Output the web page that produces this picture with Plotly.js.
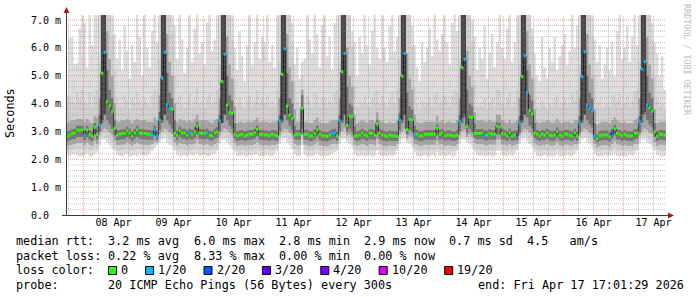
<!DOCTYPE html>
<html><head><meta charset="utf-8">
<script src="https://cdn.plot.ly/plotly-3.0.1.min.js"></script>
<style>html,body{margin:0;padding:0;background:#fff;}#chart{width:697px;height:297px;}</style>
</head><body><div id="chart"></div>
<script>
// ---------------- data (hourly bins, first bin = 2026-04-07 17:00) ----------------
const firstBin = Date.UTC(2026, 3, 7, 17, 0, 0);
const viewStart = '2026-04-07 17:01:29';
const viewEnd = '2026-04-17 17:01:29';
const dayLabels = ['08 Apr','09 Apr','10 Apr','11 Apr','12 Apr','13 Apr','14 Apr','15 Apr','16 Apr','17 Apr'];
const yTickVals = [0,1,2,3,4,5,6,7];
const yTickText = ['0.0\u00a0\u00a0','1.0 m','2.0 m','3.0 m','4.0 m','5.0 m','6.0 m','7.0 m'];

const median = [
2.83,2.87,2.93,2.95,3.05,3.05,3.05,
2.87,3.05,2.90,2.84,3.15,2.90,3.23,5.09,5.84,4.07,3.92,3.71,3.11,2.87,2.90,2.93,2.93,3.02,2.95,2.84,2.95,3.05,2.95,2.93,
2.93,2.90,2.90,2.88,3.05,2.84,3.41,4.92,5.84,3.97,3.83,3.79,2.93,2.87,3.02,2.95,2.95,2.87,2.95,2.90,2.99,3.19,2.95,2.93,
2.93,2.95,2.87,2.84,2.95,2.99,3.38,4.79,5.77,3.95,3.69,3.65,2.90,2.84,2.87,2.90,2.84,2.87,2.90,2.90,2.95,3.07,2.90,2.90,
2.87,2.87,2.84,2.90,2.87,2.84,3.38,5.05,5.96,3.91,3.59,3.47,2.87,2.90,2.90,3.83,2.90,2.90,2.84,2.84,2.93,3.05,2.90,2.84,
2.84,2.82,2.87,2.93,2.95,2.84,3.38,5.14,5.80,3.23,3.55,3.53,2.84,2.84,2.87,2.95,2.88,2.84,2.93,2.93,2.87,3.27,2.95,2.87,
2.84,2.82,2.87,2.84,2.84,2.82,3.41,4.99,5.80,3.07,3.43,3.41,2.90,2.90,2.84,2.84,2.90,2.90,2.90,2.90,2.90,3.11,2.90,2.95,
2.84,2.87,2.87,2.84,2.84,2.87,3.35,5.29,5.59,3.19,3.51,3.51,2.93,2.93,2.93,2.95,2.87,2.87,2.93,2.90,2.90,3.19,3.15,2.93,
2.90,2.84,2.95,2.84,2.87,2.87,3.31,4.97,5.71,4.40,3.74,3.63,2.95,2.90,2.84,2.90,2.87,2.95,2.87,2.84,2.87,2.99,2.87,2.83,
2.90,2.90,2.87,2.84,2.95,2.84,3.31,4.97,5.86,3.95,3.83,3.73,2.84,2.75,2.84,2.87,2.87,2.87,2.81,2.95,3.09,2.93,2.90,2.84,
2.90,2.84,2.84,2.84,2.93,2.95,3.33,5.24,5.50,3.95,3.85,3.73,2.99,2.83,2.90,2.90,2.87
];

// loss class per hour: 0 = 0, 1 = 1/20, 2 = 2/20
const lossIdx = [
0,0,0,0,0,0,0,
1,0,0,0,0,0,1,0,1,0,0,0,0,0,0,0,0,0,0,0,0,0,0,0,
0,0,0,1,1,1,1,1,1,1,1,0,0,0,0,0,0,0,1,0,0,0,0,0,
0,1,0,0,0,0,1,0,1,0,0,0,0,0,0,0,0,0,0,0,0,0,0,0,
0,0,0,0,0,0,1,0,1,0,0,0,0,0,0,0,0,0,0,0,0,0,0,0,
0,0,0,1,1,0,1,0,1,0,0,0,0,0,0,0,0,0,0,0,0,0,0,0,
0,0,0,0,0,0,1,0,1,0,0,0,1,0,0,0,0,0,0,0,0,0,0,0,
0,0,0,0,0,0,1,0,1,0,0,0,0,0,0,0,1,0,0,0,0,0,0,0,
0,0,0,0,0,2,1,0,1,1,0,0,0,0,0,0,0,0,0,0,0,0,0,0,
0,0,0,0,0,0,1,1,1,1,1,1,1,0,0,0,0,0,0,2,0,0,0,0,
0,0,0,0,0,0,1,1,1,1,0,0,0,0,0,0,0
];

// smoke: outer (min..max), mid, inner, core ranges per hour
const smokeMin = [
2.15,2.12,2.18,2.2,2.15,2.1,2.12,
2.15,2.2,2.1,2.12,2.2,2.25,2.5,2.7,2.7,2.6,2.5,2.4,2.3,2.15,2.12,2.1,2.15,2.2,2.1,2.12,2.15,2.1,2.18,2.15,
2.12,2.15,2.2,2.3,2.4,2.5,2.6,2.7,2.75,2.6,2.5,2.45,2.3,2.15,2.1,2.12,2.15,2.1,2.18,2.12,2.15,2.2,2.1,2.15,
2.15,2.1,2.12,2.18,2.2,2.3,2.55,2.7,2.7,2.6,2.5,2.4,2.25,2.12,2.1,2.15,2.12,2.1,2.15,2.12,2.18,2.2,2.1,2.12,
2.12,2.15,2.1,2.12,2.2,2.3,2.55,2.7,2.75,2.6,2.5,2.4,2.2,2.1,2.12,2.5,2.15,2.1,2.12,2.1,2.15,2.2,2.12,2.1,
2.1,2.12,2.15,2.2,2.25,2.3,2.55,2.7,2.75,2.6,2.55,2.45,2.2,2.1,2.12,2.15,2.1,2.12,2.15,2.1,2.12,2.3,2.15,2.12,
2.12,2.1,2.15,2.1,2.15,2.3,2.55,2.7,2.75,2.6,2.55,2.45,2.25,2.12,2.1,2.12,2.15,2.1,2.12,2.15,2.1,2.25,2.12,2.15,
2.1,2.12,2.15,2.1,2.12,2.3,2.55,2.7,2.7,2.6,2.55,2.45,2.25,2.15,2.12,2.15,2.1,2.12,2.15,2.1,2.12,2.3,2.3,2.15,
2.12,2.1,2.15,2.12,2.2,2.3,2.55,2.7,2.75,2.65,2.55,2.45,2.25,2.12,2.1,2.12,2.15,2.1,2.12,2.1,2.12,2.2,2.1,2.12,
2.12,2.15,2.1,2.12,2.2,2.3,2.55,2.7,2.75,2.6,2.55,2.45,2.2,2.1,2.1,2.12,2.15,2.1,2.12,2.15,2.2,2.12,2.1,2.12,
2.1,2.12,2.15,2.12,2.2,2.3,2.55,2.7,2.7,2.6,2.55,2.45,2.3,2.15,2.12,2.1,2.12
];
const smokeMax = [
4.3,6.35,6.35,5.4,5.45,6.7,7.18,
6.9,5.3,7.18,6.1,7.18,7.18,7.18,7.18,7.18,7.18,7.18,7.18,6.5,5.6,6.3,5.2,6.8,5.9,4.9,6.1,5.5,7.18,6.4,5.0,
7.18,6.0,5.3,6.6,7.18,6.2,7.18,7.18,7.18,7.18,7.18,7.18,6.8,5.6,7.18,6.3,5.1,6.0,7.18,5.5,6.7,7.18,5.8,6.2,
5.4,6.9,7.18,5.9,6.3,7.18,7.18,7.18,7.18,7.18,7.18,7.18,6.0,5.2,6.6,5.7,4.8,6.1,7.18,5.4,6.2,7.18,5.6,6.4,
6.2,7.18,5.5,6.1,5.3,7.18,7.18,7.18,7.18,7.18,7.18,6.9,5.4,6.0,4.9,5.5,5.6,7.18,6.3,5.8,7.18,6.5,5.3,6.8,
7.18,5.7,6.4,5.2,6.9,7.18,7.18,7.18,7.18,7.18,7.18,6.6,6.2,5.0,6.4,5.8,7.18,6.1,5.4,6.6,7.18,6.0,5.6,7.18,
6.0,5.5,6.8,7.18,5.9,6.4,7.18,7.18,7.18,7.18,7.18,6.8,6.1,5.3,4.8,6.2,5.5,6.0,6.7,5.7,7.18,6.3,5.9,6.5,
7.18,6.2,5.4,6.9,7.18,6.6,7.18,7.18,7.18,7.18,7.18,7.0,6.4,5.2,6.0,5.6,6.8,4.9,5.8,6.5,5.3,6.2,7.18,6.0,
5.6,6.7,7.18,5.5,6.2,7.18,7.18,7.18,7.18,7.18,7.18,6.7,5.8,5.0,4.8,6.4,5.3,4.9,6.0,5.5,6.4,5.2,5.7,6.1,
6.5,5.4,5.9,7.18,6.0,6.8,7.18,7.18,7.18,7.18,7.18,7.18,6.3,5.5,6.1,4.9,5.4,6.0,5.2,6.2,5.0,6.6,7.18,5.6,
6.0,6.8,5.5,6.4,7.18,6.1,7.18,7.18,7.18,7.18,7.18,6.9,6.2,5.8,5.0,5.7,4.5
];
const midLo = [
2.3,2.32,2.34,2.36,2.4,2.36,2.38,
2.32,2.4,2.32,2.3,2.42,2.42,2.7,2.85,2.9,2.8,2.7,2.6,2.45,2.32,2.32,2.32,2.34,2.4,2.34,2.3,2.34,2.38,2.36,2.34,
2.32,2.32,2.36,2.42,2.5,2.55,2.75,2.85,2.9,2.8,2.7,2.65,2.45,2.32,2.36,2.34,2.34,2.3,2.36,2.32,2.36,2.45,2.34,2.34,
2.34,2.34,2.3,2.32,2.36,2.42,2.7,2.85,2.9,2.8,2.7,2.6,2.4,2.3,2.3,2.34,2.3,2.3,2.34,2.3,2.36,2.42,2.32,2.32,
2.32,2.34,2.3,2.32,2.36,2.42,2.7,2.85,2.9,2.8,2.7,2.6,2.38,2.3,2.32,2.65,2.34,2.3,2.3,2.3,2.34,2.42,2.32,2.3,
2.3,2.3,2.32,2.36,2.4,2.42,2.7,2.85,2.9,2.7,2.7,2.6,2.36,2.3,2.32,2.34,2.32,2.3,2.34,2.32,2.32,2.5,2.34,2.32,
2.32,2.3,2.32,2.3,2.32,2.42,2.72,2.85,2.9,2.65,2.68,2.6,2.4,2.32,2.3,2.3,2.34,2.32,2.32,2.34,2.32,2.42,2.32,2.34,
2.3,2.32,2.32,2.3,2.3,2.42,2.7,2.85,2.85,2.7,2.7,2.6,2.4,2.34,2.32,2.34,2.3,2.32,2.34,2.3,2.32,2.48,2.46,2.34,
2.32,2.3,2.34,2.3,2.36,2.42,2.7,2.85,2.9,2.85,2.7,2.6,2.4,2.32,2.3,2.32,2.32,2.3,2.32,2.3,2.32,2.38,2.3,2.3,
2.32,2.34,2.3,2.3,2.36,2.42,2.7,2.85,2.9,2.8,2.7,2.62,2.36,2.26,2.3,2.32,2.34,2.3,2.3,2.34,2.4,2.32,2.3,2.3,
2.3,2.3,2.32,2.3,2.36,2.42,2.7,2.85,2.85,2.8,2.7,2.62,2.45,2.32,2.32,2.3,2.3
];
const midHi = [
3.9,4.3,4.1,4.0,4.4,4.2,4.5,
4.1,4.0,4.4,3.9,4.3,4.5,5.5,7.18,7.18,7.18,7.18,6.4,5.2,4.2,4.0,3.9,4.3,4.1,3.8,4.2,4.0,4.4,4.1,3.9,
4.2,4.0,3.9,4.3,4.5,4.4,5.6,7.18,7.18,7.18,7.18,6.5,5.0,4.1,4.3,4.0,3.8,4.1,4.4,3.9,4.2,4.6,4.0,4.1,
3.9,4.2,4.4,4.0,4.1,4.5,5.4,7.18,7.18,7.18,7.18,6.3,4.9,4.0,4.2,3.9,3.8,4.1,4.3,3.9,4.1,4.5,4.0,4.2,
4.0,4.3,3.9,4.1,3.9,4.5,5.5,7.18,7.18,7.18,7.18,6.2,4.8,4.1,3.9,5.0,4.0,4.3,4.1,3.9,4.4,4.3,3.9,4.2,
4.2,3.9,4.1,4.0,4.4,4.5,5.5,7.18,7.18,7.18,7.18,6.0,4.6,3.9,4.1,4.0,4.3,4.0,3.9,4.2,4.4,4.5,4.0,4.3,
4.0,3.9,4.2,4.4,4.0,4.5,5.6,7.18,7.18,7.18,7.18,6.0,4.6,4.0,3.8,4.1,3.9,4.0,4.2,3.9,4.3,4.4,4.0,4.1,
4.3,4.1,3.9,4.3,4.5,4.4,5.5,7.18,7.18,7.18,7.18,6.2,4.7,3.9,4.0,3.9,4.2,3.8,4.0,4.2,3.9,4.5,4.5,4.0,
3.9,4.2,4.4,3.9,4.1,4.5,5.4,7.18,7.18,7.18,7.18,6.4,4.9,3.9,3.8,4.1,3.9,3.8,4.0,3.9,4.2,4.3,3.9,4.0,
4.2,3.9,4.0,4.4,4.1,4.5,5.4,7.18,7.18,7.18,7.18,6.4,5.0,4.0,4.1,3.8,3.9,4.0,3.9,4.3,4.3,4.1,4.4,3.9,
4.0,4.3,3.9,4.1,4.4,4.5,5.5,7.18,7.18,7.18,7.18,6.3,5.0,4.2,3.9,4.0,3.8
];
const innerLo = [
2.48,2.5,2.52,2.55,2.6,2.58,2.6,
2.5,2.6,2.52,2.48,2.65,2.55,2.85,3.0,3.1,3.05,2.95,2.85,2.65,2.5,2.52,2.52,2.54,2.6,2.55,2.48,2.55,2.6,2.55,2.52,
2.52,2.5,2.52,2.55,2.65,2.6,2.9,3.0,3.1,3.05,2.95,2.9,2.6,2.5,2.58,2.55,2.55,2.5,2.55,2.52,2.56,2.68,2.55,2.52,
2.52,2.55,2.5,2.48,2.55,2.6,2.85,3.0,3.1,3.05,2.95,2.85,2.58,2.48,2.5,2.52,2.48,2.5,2.52,2.5,2.55,2.62,2.52,2.5,
2.5,2.5,2.48,2.52,2.5,2.55,2.85,3.0,3.1,3.05,2.95,2.85,2.55,2.5,2.5,2.85,2.52,2.5,2.48,2.48,2.54,2.62,2.5,2.48,
2.48,2.46,2.5,2.55,2.56,2.55,2.85,3.0,3.1,2.85,2.9,2.8,2.52,2.48,2.5,2.55,2.52,2.48,2.54,2.54,2.5,2.72,2.55,2.5,
2.48,2.46,2.5,2.48,2.48,2.55,2.9,3.0,3.1,2.75,2.85,2.8,2.55,2.52,2.48,2.48,2.52,2.52,2.52,2.52,2.52,2.65,2.52,2.55,
2.48,2.5,2.5,2.48,2.48,2.55,2.85,3.0,3.05,2.8,2.9,2.8,2.58,2.55,2.54,2.55,2.5,2.5,2.54,2.52,2.52,2.7,2.68,2.54,
2.52,2.48,2.55,2.48,2.5,2.55,2.85,3.0,3.1,3.05,2.95,2.85,2.58,2.52,2.48,2.52,2.5,2.55,2.5,2.48,2.5,2.6,2.5,2.48,
2.52,2.52,2.5,2.48,2.55,2.55,2.85,3.0,3.1,3.05,2.95,2.9,2.55,2.42,2.48,2.5,2.5,2.5,2.46,2.55,2.65,2.54,2.52,2.48,
2.52,2.48,2.48,2.48,2.54,2.56,2.85,3.0,3.1,3.05,2.95,2.9,2.6,2.48,2.52,2.52,2.5
];
const innerHi = [
3.3,3.35,3.4,3.4,3.45,3.45,3.45,
3.35,3.45,3.35,3.3,3.55,3.5,4.2,7.18,7.18,6.6,5.6,5.0,4.0,3.35,3.35,3.4,3.4,3.45,3.4,3.3,3.4,3.45,3.4,3.4,
3.4,3.35,3.35,3.35,3.5,3.4,4.3,7.18,7.18,6.5,5.5,5.0,4.0,3.35,3.45,3.4,3.4,3.35,3.4,3.35,3.45,3.6,3.4,3.4,
3.4,3.4,3.35,3.3,3.4,3.45,4.2,7.18,7.18,6.4,5.4,4.9,3.9,3.3,3.35,3.35,3.3,3.35,3.35,3.35,3.4,3.5,3.35,3.35,
3.35,3.35,3.3,3.35,3.35,3.4,4.2,7.18,7.18,6.5,5.3,4.8,3.8,3.35,3.35,4.5,3.35,3.35,3.3,3.3,3.4,3.5,3.35,3.3,
3.3,3.3,3.35,3.4,3.4,3.4,4.2,7.18,7.18,6.0,5.0,4.6,3.6,3.3,3.35,3.4,3.35,3.3,3.4,3.4,3.35,3.7,3.4,3.35,
3.3,3.3,3.35,3.3,3.3,3.4,4.2,7.18,7.18,5.8,4.9,4.5,3.6,3.35,3.3,3.3,3.35,3.35,3.35,3.35,3.35,3.55,3.35,3.4,
3.3,3.35,3.35,3.3,3.3,3.4,4.2,7.18,7.18,5.9,5.0,4.6,3.7,3.4,3.4,3.4,3.35,3.35,3.4,3.35,3.35,3.6,3.6,3.4,
3.35,3.3,3.4,3.3,3.35,3.4,4.2,7.18,7.18,6.6,5.4,4.9,3.8,3.35,3.3,3.35,3.35,3.4,3.35,3.3,3.35,3.45,3.35,3.3,
3.35,3.35,3.35,3.3,3.4,3.4,4.2,7.18,7.18,6.5,5.4,4.9,3.8,3.25,3.3,3.35,3.35,3.35,3.3,3.4,3.5,3.4,3.35,3.3,
3.35,3.3,3.3,3.3,3.4,3.45,4.2,7.18,7.18,6.4,5.4,4.9,3.8,3.3,3.35,3.35,3.35
];
const coreLo = [
2.65,2.68,2.72,2.72,2.8,2.8,2.8,
2.68,2.8,2.7,2.66,2.9,2.72,3.0,3.3,3.6,3.4,3.25,3.1,2.85,2.68,2.7,2.72,2.72,2.8,2.74,2.66,2.74,2.8,2.74,2.72,
2.72,2.7,2.7,2.7,2.85,2.7,3.05,3.3,3.6,3.4,3.25,3.1,2.8,2.68,2.8,2.74,2.74,2.68,2.74,2.7,2.76,2.9,2.74,2.72,
2.72,2.74,2.68,2.66,2.74,2.76,3.0,3.3,3.6,3.4,3.2,3.1,2.75,2.66,2.68,2.7,2.66,2.68,2.7,2.7,2.74,2.84,2.7,2.7,
2.68,2.68,2.66,2.7,2.68,2.66,3.0,3.3,3.6,3.4,3.2,3.05,2.72,2.7,2.7,3.1,2.7,2.7,2.66,2.66,2.72,2.82,2.7,2.66,
2.66,2.64,2.68,2.72,2.74,2.66,3.0,3.3,3.6,3.0,3.1,3.0,2.7,2.66,2.68,2.74,2.7,2.66,2.72,2.72,2.68,2.95,2.74,2.68,
2.66,2.64,2.68,2.66,2.66,2.66,3.05,3.3,3.6,2.9,3.05,3.0,2.72,2.7,2.66,2.66,2.7,2.7,2.7,2.7,2.7,2.85,2.7,2.74,
2.66,2.68,2.68,2.66,2.66,2.68,3.0,3.3,3.5,2.95,3.1,3.0,2.76,2.72,2.72,2.74,2.68,2.68,2.72,2.7,2.7,2.9,2.88,2.72,
2.7,2.66,2.74,2.66,2.68,2.68,2.95,3.3,3.6,3.5,3.2,3.1,2.76,2.7,2.66,2.7,2.68,2.74,2.68,2.66,2.68,2.78,2.68,2.66,
2.7,2.7,2.68,2.66,2.74,2.66,2.95,3.3,3.6,3.4,3.25,3.15,2.7,2.6,2.66,2.68,2.68,2.68,2.64,2.74,2.85,2.72,2.7,2.66,
2.7,2.66,2.66,2.66,2.72,2.74,2.95,3.3,3.6,3.4,3.25,3.15,2.8,2.66,2.7,2.7,2.68
];
const coreHi = [
3.0,3.03,3.08,3.1,3.2,3.2,3.2,
3.03,3.2,3.05,3.0,3.3,3.05,3.6,7.18,7.18,5.2,4.5,4.2,3.4,3.03,3.05,3.08,3.08,3.17,3.1,3.0,3.1,3.2,3.1,3.08,
3.08,3.05,3.05,3.03,3.2,3.0,3.7,7.18,7.18,5.1,4.4,4.2,3.4,3.03,3.17,3.1,3.1,3.03,3.1,3.05,3.14,3.34,3.1,3.08,
3.08,3.1,3.03,3.0,3.1,3.14,3.6,7.18,7.18,5.0,4.3,4.1,3.3,3.0,3.03,3.05,3.0,3.03,3.05,3.05,3.1,3.22,3.05,3.05,
3.03,3.03,3.0,3.05,3.03,3.0,3.6,7.18,7.18,5.1,4.2,4.0,3.2,3.05,3.05,4.3,3.05,3.05,3.0,3.0,3.08,3.2,3.05,3.0,
3.0,2.98,3.03,3.08,3.1,3.0,3.6,7.18,7.18,4.6,4.0,3.9,3.2,3.0,3.03,3.1,3.03,3.0,3.08,3.08,3.03,3.42,3.1,3.03,
3.0,2.98,3.03,3.0,3.0,3.0,3.65,7.18,7.18,4.4,3.9,3.8,3.2,3.05,3.0,3.0,3.05,3.05,3.05,3.05,3.05,3.26,3.05,3.1,
3.0,3.03,3.03,3.0,3.0,3.03,3.6,7.18,7.18,4.5,4.0,3.9,3.3,3.08,3.08,3.1,3.03,3.03,3.08,3.05,3.05,3.34,3.3,3.08,
3.05,3.0,3.1,3.0,3.03,3.03,3.55,7.18,7.18,5.2,4.3,4.1,3.3,3.05,3.0,3.05,3.03,3.1,3.03,3.0,3.03,3.14,3.03,3.0,
3.05,3.05,3.03,3.0,3.1,3.0,3.55,7.18,7.18,5.0,4.4,4.2,3.3,2.9,3.0,3.03,3.03,3.03,2.97,3.1,3.24,3.08,3.05,3.0,
3.05,3.0,3.0,3.0,3.08,3.1,3.55,7.18,7.18,5.0,4.4,4.2,3.3,3.0,3.05,3.05,3.03
];
// darkest smoke in the jump hours: bin index, low, high
const peakBins = [14,15,38,39,62,63,86,87,110,111,134,135,158,159,182,183,206,207,230,231];
const peakLo = [3.4,3.6,3.4,3.6,3.3,3.6,3.4,3.6,3.4,3.6,3.4,3.6,3.5,3.6,3.4,3.6,3.4,3.6,3.6,3.7];
const peakHi = [7.18,7.18,7.18,7.18,7.18,7.18,7.18,7.18,7.18,7.18,7.18,7.18,7.18,7.18,7.18,7.18,7.18,7.18,7.18,7.18];

const lossLabels = ['0','1/20','2/20','3/20','4/20','10/20','19/20'];
const lossColors = ['#26ff00','#00b8ff','#0059ff','#5e00ff','#7e00ff','#dd00ff','#ff0000'];
const rttStats = ['3.2 ms avg','6.0 ms max','2.8 ms min','2.9 ms now','0.7 ms sd','4.5   am/s'];
const lossStats = ['0.22 % avg','8.33 % max','0.00 % min','0.00 % now'];
const probeText = '20 ICMP Echo Pings (56 Bytes) every 300s';
const endText = 'end: Fri Apr 17 17:01:29 2026';

// ---------------- drawing ----------------
const HOUR = 3600000;
const MONO = 'DejaVu Sans Mono';
const PL = 66, PT = 15, PW = 600, PH = 200;
const pxX = x => (x - PL) / PW;
const pxY = y => (PT + PH - y) / PH;
const nb = s => s.replace(/ /g, '\u00a0');

const n = median.length;
const xs = [];
for (let k = 0; k <= n; k++) xs.push(firstBin + k * HOUR);
const stepY = a => a.concat([a[a.length - 1]]);

const traces = [];
const bands = [
  [smokeMin, smokeMax, '#dddddd'],
  [midLo, midHi, '#d0d0d0'],
  [innerLo, innerHi, '#a6a6a6'],
  [coreLo, coreHi, '#757575']
];
bands.forEach(([lo, hi, col]) => {
  traces.push({type:'scatter', x:xs, y:stepY(lo), mode:'lines', line:{width:0, shape:'hv'}, hoverinfo:'skip'});
  traces.push({type:'scatter', x:xs, y:stepY(hi), mode:'lines', line:{width:0, shape:'hv'}, fill:'tonexty', fillcolor:col, hoverinfo:'skip'});
});
peakBins.forEach((k, i) => {
  const a = xs[k], b = xs[k + 1];
  traces.push({type:'scatter', x:[a, b, b, a, a], y:[peakLo[i], peakLo[i], peakHi[i], peakHi[i], peakLo[i]],
    mode:'lines', line:{width:0}, fill:'toself', fillcolor:'#474747', hoverinfo:'skip'});
});
traces.push({type:'scatter', x:xs, y:stepY(median), mode:'lines', line:{width:1, color:'#202020', shape:'hv'}, hoverinfo:'skip'});
lossColors.forEach((col, c) => {
  const bx = [], by = [];
  for (let k = 0; k < n; k++) {
    if (lossIdx[k] === c) { bx.push(xs[k], xs[k + 1], null); by.push(median[k], median[k], null); }
  }
  if (bx.length) traces.push({type:'scatter', x:bx, y:by, mode:'lines', line:{width:3, color:col}, hoverinfo:'skip'});
});

const shapes = [];
const minorCol = 'rgba(140,140,140,0.5)', majorCol = 'rgba(225,60,60,0.5)';
for (let j = 1; j <= 35; j++) {
  const major = j % 5 === 0;
  shapes.push({type:'line', layer:'above', xref:'paper', x0:0, x1:1, yref:'y', y0:j / 5, y1:j / 5,
    line:{color: major ? majorCol : minorCol, width:1, dash:'1px,1px'}});
}
for (let t = Date.UTC(2026, 3, 7, 18); t <= Date.UTC(2026, 3, 17, 12); t += 6 * HOUR) {
  const major = new Date(t).getUTCHours() === 0;
  shapes.push({type:'line', layer:'above', xref:'x', x0:t, x1:t, yref:'paper', y0:0, y1:1,
    line:{color: major ? majorCol : minorCol, width:1, dash:'1px,1px'}});
}
// axes + arrows
const axisCol = '#3a3a3a', arrowCol = '#a51d1d';
shapes.push({type:'line', layer:'above', xref:'paper', yref:'paper', x0:pxX(66.5), x1:pxX(66.5), y0:pxY(215.5), y1:pxY(12), line:{color:axisCol, width:1}});
shapes.push({type:'line', layer:'above', xref:'paper', yref:'paper', x0:pxX(62), x1:pxX(668), y0:pxY(215.5), y1:pxY(215.5), line:{color:axisCol, width:1}});
const tri = pts => 'M ' + pts.map(p => pxX(p[0]) + ' ' + pxY(p[1])).join(' L ') + ' Z';
shapes.push({type:'path', layer:'above', xref:'paper', yref:'paper', path:tri([[66.5,7],[63.5,13],[69.5,13]]), fillcolor:arrowCol, line:{width:0}});
shapes.push({type:'path', layer:'above', xref:'paper', yref:'paper', path:tri([[674,215.5],[668,212.5],[668,218.5]]), fillcolor:arrowCol, line:{width:0}});

const annotations = [];
const ann = (text, x, y, extra) => annotations.push(Object.assign({
  text: nb(text), xref:'paper', yref:'paper', x:pxX(x), y:pxY(y), xanchor:'left', yanchor:'middle',
  showarrow:false, borderpad:0, borderwidth:0, font:{family:MONO, size:11.8, color:'#000'}
}, extra || {}));

// legend lines
const CW = 7.1, LX = 16;
ann('median rtt:', LX, 241);
rttStats.forEach((s, i) => ann(s, LX + CW * (13 + 12 * i - (i > 4 ? 1 : 0)), 241));
ann('packet loss:', LX, 255.5);
lossStats.forEach((s, i) => ann(s, LX + CW * (13 + 12 * i), 255.5));
ann('loss color:', LX, 270);
let bxp = 108;
lossLabels.forEach((lab, i) => {
  shapes.push({type:'rect', layer:'above', xref:'paper', yref:'paper', x0:pxX(bxp + 0.5), x1:pxX(bxp + 8.5), y0:pxY(274.5), y1:pxY(266.5),
    fillcolor:lossColors[i], line:{color:'#000', width:1}});
  ann(lab, bxp + 13, 270);
  bxp = bxp + 13 + lab.length * CW + 17;
});
ann('probe:', LX, 284.5);
ann(probeText, LX + CW * 13, 284.5);
ann(endText, 478, 284.5);
// axis title + watermark
ann('Seconds', 10, 113, {xanchor:'center', textangle:-90});
ann('RRDTOOL / TOBI OETIKER', 687, 60, {xanchor:'center', textangle:90, font:{family:MONO, size:8.4, color:'#bdbdbd'}});

const layout = {
  width:697, height:297, margin:{l:PL, r:697 - PL - PW, t:PT, b:297 - PT - PH, pad:0},
  paper_bgcolor:'#ffffff', plot_bgcolor:'#ffffff', showlegend:false,
  xaxis:{type:'date', range:[viewStart, viewEnd], tickvals: dayLabels.map((_, i) => Date.UTC(2026, 3, 8 + i, 12)),
    ticktext: dayLabels, showgrid:false, zeroline:false, showline:false, ticks:'',
    tickfont:{family:MONO, size:10, color:'#000'}, fixedrange:true},
  yaxis:{range:[0, 7.18], tickvals:yTickVals, ticktext:yTickText, showgrid:false, zeroline:false, showline:false,
    ticks:'', ticklabelstandoff:4, tickfont:{family:MONO, size:10, color:'#000'}, fixedrange:true},
  shapes: shapes, annotations: annotations
};
const lens = [median, lossIdx, smokeMin, smokeMax, midLo, midHi, innerLo, innerHi, coreLo, coreHi].map(a => a.length);
if (lens.some(l => l !== 240)) { layout.title = {text: 'LEN ' + lens.join(',')}; }
Plotly.newPlot('chart', traces, layout, {displayModeBar:false, staticPlot:true});
</script></body></html>
